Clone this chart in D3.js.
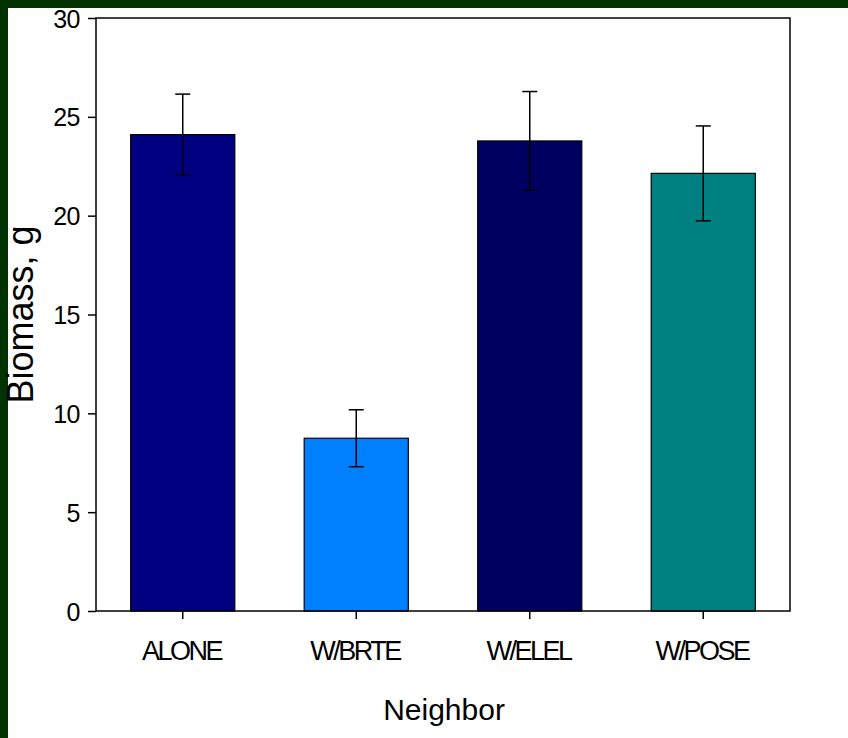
<!DOCTYPE html>
<html>
<head>
<meta charset="utf-8">
<script src="https://cdn.jsdelivr.net/npm/d3@7"></script>
<style>
  html, body { margin: 0; padding: 0; background: #ffffff; }
  svg { display: block; }
  text { font-family: Arial, "Liberation Sans", sans-serif; fill: #000; }
</style>
</head>
<body>
<svg id="chart" width="848" height="738"></svg>
<script>
// Biomass by neighbour treatment (mean ± error)
const categories = ["ALONE", "W/BRTE", "W/ELEL", "W/POSE"];
const biomass    = [24.1, 8.74, 23.78, 22.14];
const errors     = [2.05, 1.44, 2.5, 2.4];
const barColors  = ["#000080", "#0080ff", "#000060", "#008080"];
const yTicks     = [0, 5, 10, 15, 20, 25, 30];

const W = 848, H = 738;
const plot = { left: 96, right: 790, top: 18, bottom: 611 };

const svg = d3.select("#chart");

// dark green frame along the top and left edges
svg.append("rect").attr("x", 0).attr("y", 0).attr("width", W).attr("height", H).attr("fill", "#003300");
svg.append("rect").attr("x", 8).attr("y", 8).attr("width", W - 8).attr("height", H - 8).attr("fill", "#ffffff");

const x = d3.scaleBand()
  .domain(categories)
  .range([plot.left, plot.right])
  .paddingInner(0.4)
  .paddingOuter(0.2);

const y = d3.scaleLinear().domain([0, 30]).range([plot.bottom, plot.top]);

const rows = categories.map((c, i) => ({ c, v: biomass[i], e: errors[i], col: barColors[i] }));

// bars
svg.append("g").selectAll("rect")
  .data(rows).join("rect")
  .attr("x", d => x(d.c))
  .attr("y", d => y(d.v))
  .attr("width", x.bandwidth())
  .attr("height", d => y(0) - y(d.v))
  .attr("fill", d => d.col)
  .attr("stroke", "#000")
  .attr("stroke-width", 1.2);

// error bars
const eb = svg.append("g").attr("stroke", "#000").attr("stroke-width", 1.5);
rows.forEach(d => {
  const cx = x(d.c) + x.bandwidth() / 2;
  eb.append("line").attr("x1", cx).attr("x2", cx).attr("y1", y(d.v + d.e)).attr("y2", y(d.v - d.e));
  [d.v + d.e, d.v - d.e].forEach(v => {
    eb.append("line").attr("x1", cx - 7.5).attr("x2", cx + 7.5).attr("y1", y(v)).attr("y2", y(v));
  });
});

// plot frame
svg.append("rect")
  .attr("x", plot.left).attr("y", plot.top)
  .attr("width", plot.right - plot.left).attr("height", plot.bottom - plot.top)
  .attr("fill", "none").attr("stroke", "#000").attr("stroke-width", 1.5);

// y axis
const yAxis = svg.append("g")
  .attr("transform", `translate(${plot.left},0)`)
  .call(d3.axisLeft(y).tickValues(yTicks).tickSize(8).tickPadding(8).tickFormat(d3.format("d")));
yAxis.select(".domain").remove();
yAxis.selectAll(".tick line").attr("stroke", "#000").attr("stroke-width", 1.5);
yAxis.selectAll(".tick text")
  .attr("font-size", 25)
  .attr("font-family", "Arial, 'Liberation Sans', sans-serif")
  .attr("letter-spacing", "-0.5px")
  .attr("dy", "0.36em");

// x axis
const xAxis = svg.append("g")
  .attr("transform", `translate(0,${plot.bottom})`)
  .call(d3.axisBottom(x).tickSize(8).tickPadding(0));
xAxis.select(".domain").remove();
xAxis.selectAll(".tick line").attr("stroke", "#000").attr("stroke-width", 1.5);
xAxis.selectAll(".tick text")
  .attr("font-size", 27)
  .attr("font-family", "Arial, 'Liberation Sans', sans-serif")
  .attr("letter-spacing", "-2.5px")
  .attr("dx", "-1.25px")
  .attr("dy", 0)
  .attr("y", 49);

// axis titles
svg.append("text")
  .attr("transform", `translate(33,${(plot.top + plot.bottom) / 2}) rotate(-90)`)
  .attr("text-anchor", "middle")
  .attr("font-size", 36)
  .text("Biomass, g");

svg.append("text")
  .attr("x", 444)
  .attr("y", 720)
  .attr("text-anchor", "middle")
  .attr("font-size", 30)
  .text("Neighbor");
</script>
</body>
</html>
